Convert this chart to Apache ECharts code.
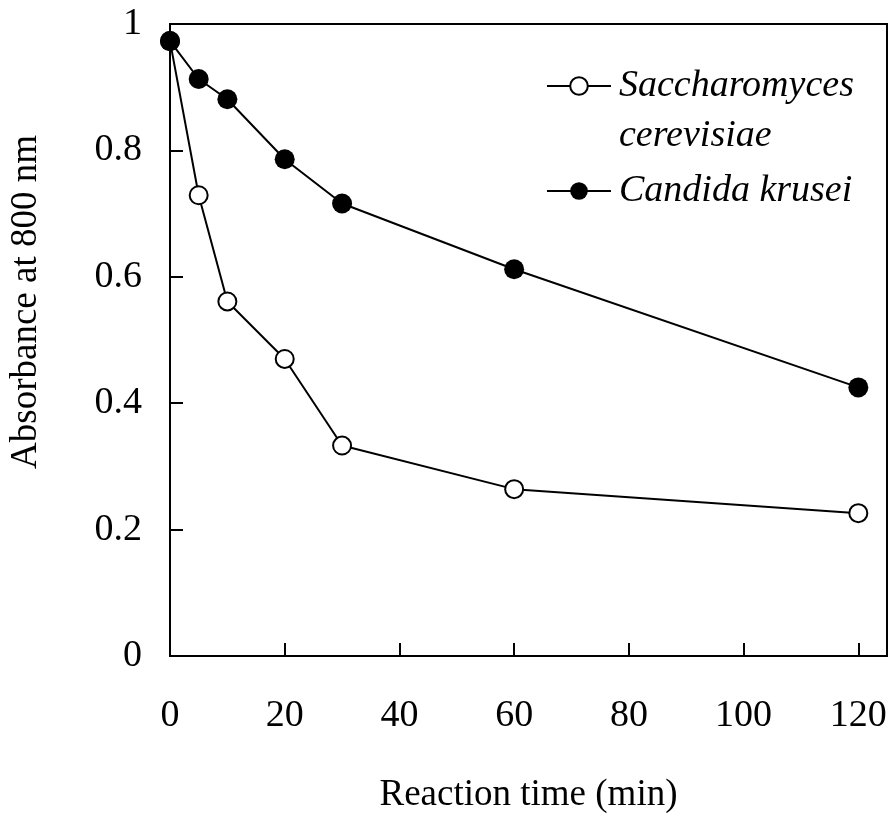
<!DOCTYPE html>
<html>
<head>
<meta charset="utf-8">
<title>Absorbance vs reaction time</title>
<script src="https://cdn.jsdelivr.net/npm/echarts@6/dist/echarts.min.js"></script>
<style>
  html, body { margin: 0; padding: 0; background: #fff; }
  #chart { width: 892px; height: 830px; }
</style>
</head>
<body>
<div id="chart"></div>
<script>
// Reaction time points (min)
const times = [0, 5, 10, 20, 30, 60, 120];
// Absorbance at 800 nm for each yeast
const saccharomyces = [0.973, 0.729, 0.561, 0.470, 0.333, 0.264, 0.226];
const candida = [0.973, 0.913, 0.881, 0.786, 0.716, 0.612, 0.425];
// Axis settings
const xTicks = { min: 0, max: 125, interval: 20 };
const yTicks = { min: 0, max: 1, interval: 0.2 };

const seriesNames = ['Saccharomyces cerevisiae', 'Candida krusei'];
// The leading blank line keeps the first text line level with the legend icon
const legendLabels = {
  'Saccharomyces cerevisiae': '\nSaccharomyces\ncerevisiae',
  'Candida krusei': 'Candida krusei'
};

const FONT = "'Liberation Serif', 'Times New Roman', serif";

const toPairs = (xs, ys) => xs.map((x, i) => [x, ys[i]]);

const chart = echarts.init(document.getElementById('chart'), null, { renderer: 'canvas' });

chart.setOption({
  animation: false,
  backgroundColor: '#fff',
  grid: {
    left: 169, top: 24, right: 5, bottom: 174,
    show: true, borderColor: '#000', borderWidth: 2, backgroundColor: 'transparent'
  },
  legend: {
    orient: 'vertical',
    left: 546,
    top: 11,
    padding: 0,
    itemWidth: 64,
    itemHeight: 22,
    itemGap: 5,
    data: seriesNames,
    formatter: name => legendLabels[name],
    textStyle: {
      fontFamily: FONT, fontSize: 38, fontStyle: 'italic', color: '#000',
      lineHeight: 50, padding: [0, 0, 0, 3]
    }
  },
  xAxis: {
    type: 'value',
    min: xTicks.min, max: xTicks.max, interval: xTicks.interval,
    name: 'Reaction time (min)',
    nameLocation: 'middle',
    nameGap: 121,
    nameTextStyle: { fontFamily: FONT, fontSize: 37, color: '#000' },
    axisLine: { show: true, lineStyle: { color: '#000', width: 2 } },
    axisTick: { show: true, inside: true, length: 13, lineStyle: { color: '#000', width: 2 } },
    axisLabel: {
      showMaxLabel: false,
      margin: 41,
      fontFamily: FONT, fontSize: 38, color: '#000'
    },
    splitLine: { show: false }
  },
  yAxis: {
    type: 'value',
    min: yTicks.min, max: yTicks.max, interval: yTicks.interval,
    name: 'Absorbance at 800 nm',
    nameLocation: 'middle',
    nameGap: 125,
    nameRotate: 90,
    nameTextStyle: { fontFamily: FONT, fontSize: 37, color: '#000', padding: [0, 0, 0, 76] },
    axisLine: { show: true, lineStyle: { color: '#000', width: 2 } },
    axisTick: { show: true, inside: true, length: 13, lineStyle: { color: '#000', width: 2 } },
    axisLabel: {
      margin: 28,
      padding: [5, 0, 0, 0],
      fontFamily: FONT, fontSize: 38, color: '#000',
      formatter: v => String(Math.round(v * 10) / 10)
    },
    splitLine: { show: false }
  },
  series: [
    {
      name: seriesNames[0],
      type: 'line',
      data: toPairs(times, saccharomyces),
      symbol: 'circle',
      symbolSize: 18,
      clip: false,
      lineStyle: { color: '#000', width: 2 },
      itemStyle: { color: '#fff', borderColor: '#000', borderWidth: 2 },
      z: 2
    },
    {
      name: seriesNames[1],
      type: 'line',
      data: toPairs(times, candida),
      symbol: 'circle',
      symbolSize: 20,
      clip: false,
      lineStyle: { color: '#000', width: 2 },
      itemStyle: { color: '#000', borderColor: '#000', borderWidth: 0 },
      z: 3
    }
  ]
});
</script>
</body>
</html>
